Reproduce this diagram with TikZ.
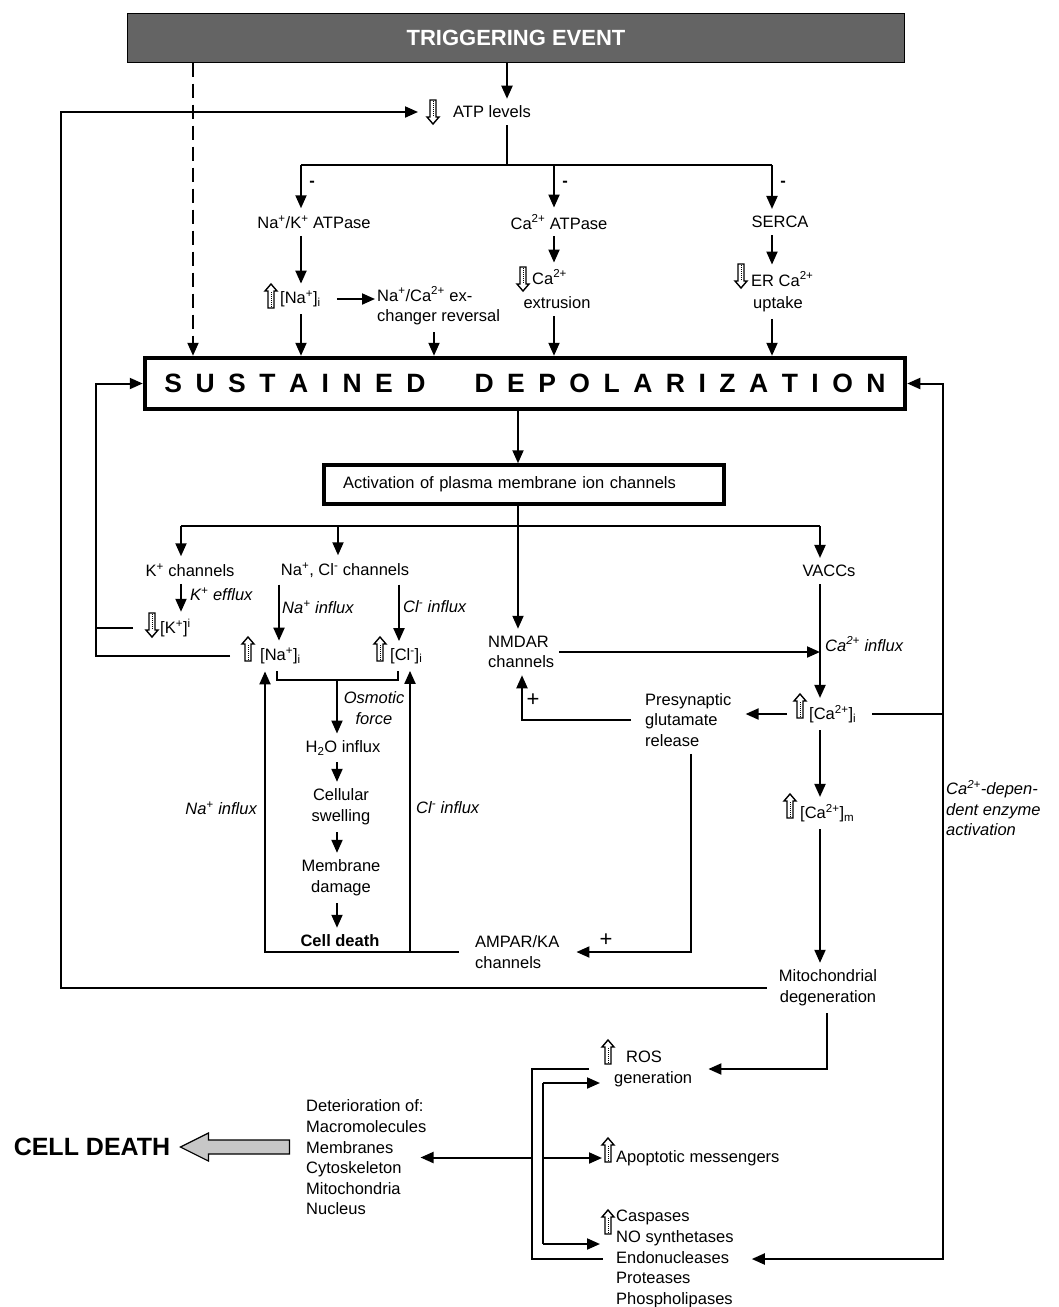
\documentclass[tikz,border=0pt]{standalone}
\usepackage{fontspec}
\setmainfont{Liberation Sans}
\usetikzlibrary{arrows.meta}

\newcommand{\ion}[1]{\textsuperscript{#1}}
\newcommand{\spreadword}[1]{\foreach \ltr [count=\n] in {#1}{\ifnum\n>1\hspace{13.5pt}\fi\ltr}}

\tikzset{
  every node/.style={font=\fontsize{16.5}{20.6}\selectfont, inner xsep=2pt, inner ysep=7pt},
  ln/.style={line width=2pt},
  arr/.style={line width=2pt, -{Triangle[length=13pt,width=11pt]}},
  lbl/.style={font=\fontsize{16.5}{20.6}\selectfont\itshape, inner sep=1pt},
  sign/.style={font=\fontsize{16.5}{20.6}\selectfont\bfseries, inner sep=0pt},
  banner/.style={draw=black, line width=1pt, fill={rgb,255:red,100;green,100;blue,100}, text=white,
    font=\fontsize{22}{26}\selectfont\bfseries, minimum width=777pt, minimum height=49pt},
  bigbox/.style={draw=black, line width=4.5pt, minimum width=760pt, minimum height=51pt, inner sep=0pt,
    font=\fontsize{26.5}{30}\selectfont\bfseries},
  actbox/.style={draw=black, line width=3.5pt, minimum height=39pt, text width=362pt, inner xsep=19pt, align=left},
  bigarr/.style={draw=black, line width=1.2pt, fill=black!22},
  % pics are drawn without the picture's y flip
  upar/.pic={
    \draw[line width=1.4pt, fill=white, line join=miter] (-3,-12) -- (-3,5) -- (-6,5) -- (0,12) -- (6,5) -- (3,5) -- (3,-12) -- cycle;
    \draw[line width=0.9pt, dash pattern=on 1pt off 1pt] (0,-11) -- (0,4);
  },
  dnar/.pic={
    \draw[line width=1.4pt, fill=white, line join=miter] (-3,12) -- (-3,-5) -- (-6,-5) -- (0,-12) -- (6,-5) -- (3,-5) -- (3,12) -- cycle;
    \draw[line width=0.9pt, dash pattern=on 1pt off 1pt] (0,-4) -- (0,11);
  },
}

\begin{document}
\begin{tikzpicture}[x=1pt,y=1pt,yscale=-1]
\useasboundingbox (0,0) rectangle (1058,1307);

% columns of the vertical connectors
\coordinate (xdash) at (193,0);
\coordinate (xna) at (301,0);
\coordinate (xex) at (434,0);
\coordinate (xca) at (554,0);
\coordinate (xer) at (772,0);
\coordinate (xfb) at (96,0);
\coordinate (xk) at (181,0);
\coordinate (xnc) at (338,0);
\coordinate (xv) at (820,0);
\coordinate (xnai) at (279,0);
\coordinate (xcli) at (399,0);
\coordinate (xbl) at (277,0);
\coordinate (xbr) at (398,0);
\coordinate (xnl) at (265,0);
\coordinate (xcl) at (410,0);
\coordinate (xpl) at (522,0);
\coordinate (xpr) at (691,0);
\coordinate (xr) at (943,0);
\coordinate (xl) at (61,0);
\coordinate (xmr) at (827,0);
\coordinate (xo) at (532,0);
% junctions
\coordinate (split) at (507,165);
\coordinate (split2) at (518,526);
\coordinate (brk) at (337,680);
\coordinate (ri1) at (543,1083);
\coordinate (ri2) at (543,1244);

% top part
\node[banner] (trig) at (516,37.5) {TRIGGERING EVENT};
\node[anchor=west] (atp) at (451,112) {ATP levels};
\node (nak) at (314,222) {Na\ion{+}/K\ion{+} ATPase};
\node (caatp) at (559,222) {Ca\ion{2+} ATPase};
\node (serca) at (780,222) {SERCA};
\node[sign] (m1) at (312,184) {-};
\node[sign] (m2) at (565,184) {-};
\node[sign] (m3) at (783,184) {-};
\node[anchor=west] (naa) at (278,299) {[Na\ion{+}]\textsubscript{i}};
\node[align=left, anchor=west] (exch) at (375,306) {Na\ion{+}/Ca\ion{2+} ex-\\changer reversal};
\node[anchor=west] (caex) at (530,277) {Ca\ion{2+}};
\node (caex2) at (557,303) {extrusion};
\node[anchor=west] (erca) at (749,279) {ER Ca\ion{2+}};
\node (upt) at (778,304) {uptake};

\draw[arr] (trig.south -| split) -- (atp.north -| split);
\draw[ln] (atp.south -| split) -- (split);
\draw[ln] (xna |- split) -- (xer |- split);
\draw[arr] (xna |- split) -- (nak.north -| xna);
\draw[arr] (xca |- split) -- (caatp.north -| xca);
\draw[arr] (xer |- split) -- (serca.north -| xer);
\draw[arr] (nak.south -| xna) -- (naa.north -| xna);
\draw[arr] (caatp.south -| xca) -- (caex.north -| xca);
\draw[arr] (serca.south -| xer) -- (erca.north -| xer);
\draw[arr] ([xshift=14pt]naa.east) -- (exch.west |- naa.east);

% sustained depolarization
\node[bigbox] (sust) at (525,383.5) {\spreadword{S,U,S,T,A,I,N,E,D}\hspace{49pt}\spreadword{D,E,P,O,L,A,R,I,Z,A,T,I,O,N}};
\draw[arr, dash pattern=on 14pt off 7pt] (trig.south -| xdash) -- (sust.north -| xdash);
\draw[arr] (naa.south -| xna) -- (sust.north -| xna);
\draw[arr] (exch.south -| xex) -- (sust.north -| xex);
\draw[arr] (caex2.south -| xca) -- (sust.north -| xca);
\draw[arr] (upt.south -| xer) -- (sust.north -| xer);

\node[actbox] (act) at (524,484.5) {Activation of plasma membrane ion channels};
\draw[arr] (sust.south -| split2) -- (act.north -| split2);

% ion channels
\node (kch) at (190,570) {K\ion{+} channels};
\node (nacl) at (345,570) {Na\ion{+}, Cl\ion{-} channels};
\node (vacc) at (829,571) {VACCs};
\draw[ln] (xk |- split2) -- (xv |- split2);
\draw[arr] (xk |- split2) -- (kch.north -| xk);
\draw[arr] (xnc |- split2) -- (nacl.north -| xnc);
\draw[arr] (xv |- split2) -- (vacc.north -| xv);

\node[anchor=west] (kk) at (158,628) {[K\ion{+}]\ion{i}};
\node[anchor=west] (na2) at (258,656) {[Na\ion{+}]\textsubscript{i}};
\node[anchor=west] (cl2) at (388,656) {[Cl\ion{-}]\textsubscript{i}};
\node[lbl, anchor=west] (keff) at (189,594) {K\ion{+} efflux};
\node[lbl, anchor=west] (nainf) at (281,607) {Na\ion{+} influx};
\node[lbl, anchor=west] (clinf) at (402,607) {Cl\ion{-} influx};
\draw[arr] (kch.south -| xk) -- (kk.north -| xk);
\draw[arr] (nacl.south -| xnai) -- (na2.north -| xnai);
\draw[arr] (nacl.south -| xcli) -- (cl2.north -| xcli);
\draw[ln] ([xshift=-25pt]kk.west) -- (xfb |- kk.west);
\draw[arr] ([xshift=-28pt]na2.west) -- (xfb |- na2.west) -- (xfb |- sust.west) -- (sust.west);

% swelling branch
\node[lbl, align=center] (osm) at (374,708) {Osmotic\\force};
\node (h2o) at (343,748) {H\textsubscript{2}O influx};
\node[align=center] (cellsw) at (341,807) {Cellular\\swelling};
\node[align=center] (memd) at (341,878) {Membrane\\damage};
\node[font=\fontsize{16.5}{20.6}\selectfont\bfseries] (celld) at (340,941) {Cell death};
\draw[ln] (na2.south -| xbl) -- (xbl |- brk) -- (xbr |- brk) -- (cl2.south -| xbr);
\draw[arr] (brk) -- (h2o.north -| brk);
\draw[arr] (h2o.south -| brk) -- (cellsw.north -| brk);
\draw[arr] (cellsw.south -| brk) -- (memd.north -| brk);
\draw[arr] (memd.south -| brk) -- (celld.north -| brk);

\node[align=left, anchor=west] (ampar) at (473,952) {AMPAR/KA\\channels};
\node[lbl, anchor=east] (nainf2) at (258,808) {Na\ion{+} influx};
\node[lbl, anchor=west] (clinf2) at (415,808) {Cl\ion{-} influx};
\draw[arr] ([xshift=-14pt]ampar.west) -- (xnl |- ampar.west) -- (na2.south -| xnl);
\draw[arr] (xcl |- ampar.west) -- (cl2.south -| xcl);

% glutamate and calcium
\node[align=left, anchor=west] (nmdar) at (486,652) {NMDAR\\channels};
\node[lbl, anchor=west] (cainf) at (824,644) {Ca\ion{2+} influx};
\node[anchor=west] (cai) at (807,714) {[Ca\ion{2+}]\textsubscript{i}};
\node[align=left, anchor=west] (presyn) at (643,720) {Presynaptic\\glutamate\\release};
\node[sign, font=\fontsize{22}{24}\selectfont] (plus1) at (533,700) {+};
\node[sign, font=\fontsize{22}{24}\selectfont] (plus2) at (606,940) {+};
\node[anchor=west] (cam) at (798,813) {[Ca\ion{2+}]\textsubscript{m}};
\node[align=center] (mito) at (828,988) {Mitochondrial\\degeneration};
\node[lbl, align=left, anchor=west] (cadep) at (945,808) {Ca\ion{2+}-depen-\\dent enzyme\\activation};

\draw[arr] (act.south -| split2) -- (nmdar.north -| split2);
\draw[arr] ([xshift=3pt]nmdar.east) -- (xv |- nmdar.east);
\draw[arr] (vacc.south -| xv) -- (cai.north -| xv);
\draw[arr] ([xshift=-20pt]cai.west) -- ([xshift=12pt]presyn.east |- cai.west);
\draw[arr] ([xshift=-12pt]presyn.west) -- (xpl |- presyn.west) -- (nmdar.south -| xpl);
\draw[arr] (presyn.south -| xpr) -- (xpr |- ampar.east) -- ([xshift=15pt]ampar.east);
\draw[ln] ([xshift=14pt]cai.east) -- (xr |- cai.east);
\draw[arr] (cai.south -| xv) -- (cam.north -| xv);
\draw[arr] (cam.south -| xv) -- (mito.north -| xv);
\draw[arr] ([xshift=-10pt]mito.west) -- (xl |- mito.west) -- (xl |- atp.west) -- ([xshift=-33pt]atp.west);
\draw[arr] (xr |- cai.east) -- (xr |- sust.east) -- (sust.east);

% final steps
\node[align=left, anchor=west] (ros) at (612,1069) {\hspace*{12pt}ROS\\generation};
\node[anchor=west] (apop) at (614,1158) {Apoptotic messengers};
\node[align=left, anchor=west] (enz) at (614,1259) {Caspases\\NO synthetases\\Endonucleases\\Proteases\\Phospholipases};
\node[align=left, anchor=west] (det) at (304,1157.5) {Deterioration of:\\Macromolecules\\Membranes\\Cytoskeleton\\Mitochondria\\Nucleus};
\node[font=\fontsize{25}{28}\selectfont\bfseries] (cd) at (92,1147) {CELL DEATH};

\draw[arr] (mito.south -| xmr) -- (xmr |- ros.east) -- ([xshift=14pt]ros.east);
\draw[arr] (xr |- cai.east) -- (xr |- enz.east) -- ([xshift=16pt]enz.east);
\draw[ln] ([xshift=-23pt]ros.west) -- (xo |- ros.west) -- (xo |- enz.west) -- ([xshift=-11pt]enz.west);
\draw[arr] (xo |- det.east) -- ([xshift=-8pt]det.east);
\draw[ln] (ri1) -- (ri2);
\draw[arr] (ri1) -- ([xshift=-12pt]ros.west |- ri1);
\draw[arr] (ri1 |- apop.west) -- ([xshift=-12pt]apop.west);
\draw[arr] (ri2) -- ([xshift=-14pt]enz.west |- ri2);
\draw[bigarr] ([xshift=8pt]cd.east) -- ++(28,-14) -- ++(0,7) -- ++(81,0) -- ++(0,14) -- ++(-81,0) -- ++(0,7) -- cycle;

% up and down marks
\pic at (433,112) {dnar};
\pic at (271,296) {upar};
\pic at (523,279) {dnar};
\pic at (741,276) {dnar};
\pic at (152,625) {dnar};
\pic at (248,649) {upar};
\pic at (380,649) {upar};
\pic at (800,706) {upar};
\pic at (790,806) {upar};
\pic at (608,1052) {upar};
\pic at (608,1150) {upar};
\pic at (608,1222) {upar};

\end{tikzpicture}
\end{document}
